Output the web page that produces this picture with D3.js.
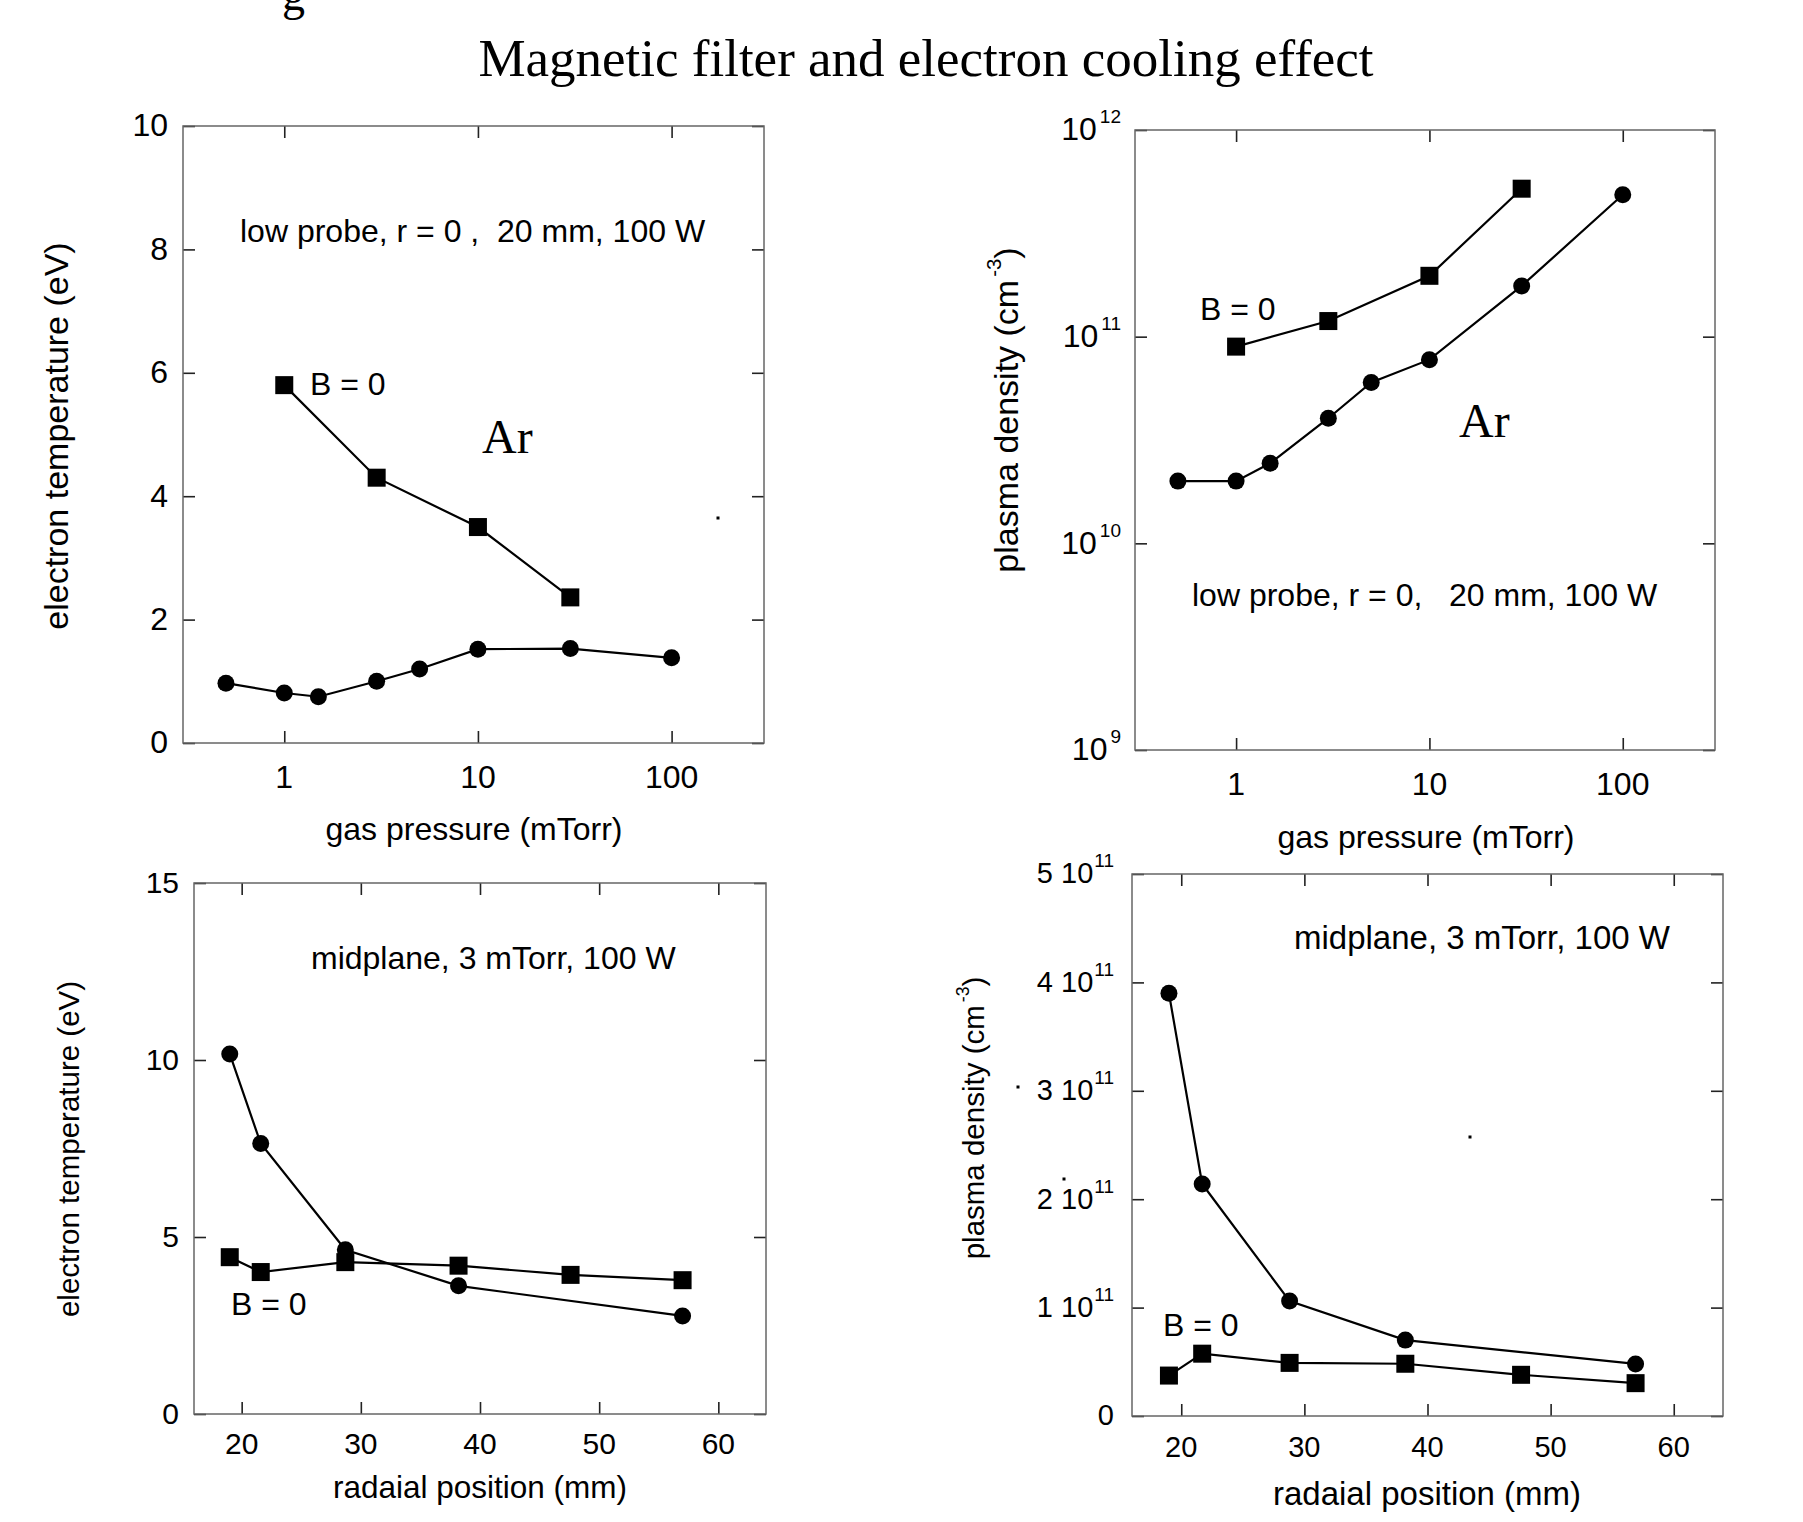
<!DOCTYPE html>
<html>
<head>
<meta charset="utf-8">
<script src="https://cdn.jsdelivr.net/npm/d3@7"></script>
<style>
body { margin: 0; background: #fff; }
svg text { font-family: "Liberation Sans", Arial, sans-serif; fill: #000; }
svg text.serif { font-family: "Liberation Serif", "Times New Roman", serif; }
</style>
</head>
<body>
<svg id="chart" width="1803" height="1522"></svg>
<script>
// ---- data ----
var pressure   = [0.5, 1, 1.5, 3, 5, 10, 30, 100];   // mTorr, with field
var pressureB0 = [1, 3, 10, 30];                      // mTorr, B = 0
var tePress    = [0.97, 0.81, 0.75, 1.0, 1.2, 1.52, 1.53, 1.38];
var tePressB0  = [5.8, 4.3, 3.5, 2.36];
var nPress     = [2.0e10, 2.0e10, 2.44e10, 4.03e10, 6.0e10, 7.74e10, 1.76e11, 4.86e11];
var nPressB0   = [8.95e10, 1.19e11, 1.97e11, 5.2e11];

var radius     = [19, 21.6, 28.7, 38.2, 57];          // mm, with field
var radiusB0   = [19, 21.6, 28.7, 38.2, 47.6, 57];    // mm, B = 0
var teRad      = [10.17, 7.64, 4.64, 3.62, 2.77];
var teRadB0    = [4.43, 4.01, 4.29, 4.19, 3.93, 3.78];
var nRad       = [3.9e11, 2.14e11, 1.06e11, 0.70e11, 0.48e11];
var nRadB0     = [0.373e11, 0.575e11, 0.49e11, 0.482e11, 0.38e11, 0.303e11];

// tick values
var pressTicks   = [1, 10, 100];
var tePressTicks = [0, 2, 4, 6, 8, 10];
var nPressTicks  = [1e9, 1e10, 1e11, 1e12];
var radTicks     = [20, 30, 40, 50, 60];
var teRadTicks   = [0, 5, 10, 15];
var nRadTicks    = [0, 1e11, 2e11, 3e11, 4e11, 5e11];

var svg = d3.select("#chart");

function zip(xs, ys) { return xs.map(function(v, i) { return [v, ys[i]]; }); }

function plain(d) { return [String(d)]; }
function pow10(d) { return ["10", String(Math.round(Math.log10(d)))]; }
function mant11(d) { return d === 0 ? ["0"] : [Math.round(d / 1e11) + " 10", "11"]; }

// title + clipped letter from the page above
svg.append("text").attr("class", "serif").attr("x", 282).attr("y", 10)
    .attr("font-size", 46).text("g");
svg.append("text").attr("class", "serif").attr("x", 926).attr("y", 76)
    .attr("font-size", 53).attr("text-anchor", "middle")
    .text("Magnetic filter and electron cooling effect");

var panels = [
  { left: 183, right: 764, top: 126, bottom: 743,
    xlog: true, xdom: [0.3, 300], ylog: false, ydom: [0, 10],
    xticks: pressTicks, yticks: tePressTicks, xfmt: plain, yfmt: plain,
    tickFont: 32, xLabY: 788, yGap: 15,
    series: [{ d: zip(pressure, tePress), m: "c" }, { d: zip(pressureB0, tePressB0), m: "s" }],
    xTitle: "gas pressure (mTorr)", xTitleFont: 32, xTitleX: 474, xTitleY: 840,
    yTitle: ["electron temperature (eV)"], yTitleFont: 34, yTitleX: 68, yTitleY: 436,
    notes: [
      { t: "low probe, r = 0 ,  20 mm, 100 W", x: 240, y: 242, fs: 32 },
      { t: "B = 0", x: 310, y: 395, fs: 32 },
      { t: "Ar", x: 482, y: 453, fs: 48, serif: true }
    ],
    dots: [[718, 518]] },
  { left: 1135, right: 1715, top: 130, bottom: 750,
    xlog: true, xdom: [0.3, 300], ylog: true, ydom: [1e9, 1e12],
    xticks: pressTicks, yticks: nPressTicks, xfmt: plain, yfmt: pow10,
    tickFont: 32, xLabY: 795, yGap: 14, supFont: 19, supDy: -17, supDx: 3,
    series: [{ d: zip(pressure, nPress), m: "c" }, { d: zip(pressureB0, nPressB0), m: "s" }],
    xTitle: "gas pressure (mTorr)", xTitleFont: 32, xTitleX: 1426, xTitleY: 848,
    yTitle: ["plasma density (cm", "-3", ")"], yTitleFont: 34, yTitleX: 1018, yTitleY: 410,
    notes: [
      { t: "B = 0", x: 1200, y: 320, fs: 32 },
      { t: "Ar", x: 1459, y: 437, fs: 48, serif: true },
      { t: "low probe, r = 0,   20 mm, 100 W", x: 1192, y: 606, fs: 32 }
    ],
    dots: [] },
  { left: 194, right: 766, top: 883, bottom: 1414,
    xlog: false, xdom: [16, 64], ylog: false, ydom: [0, 15],
    xticks: radTicks, yticks: teRadTicks, xfmt: plain, yfmt: plain,
    tickFont: 30, xLabY: 1454, yGap: 15,
    series: [{ d: zip(radius, teRad), m: "c" }, { d: zip(radiusB0, teRadB0), m: "s" }],
    xTitle: "radaial position (mm)", xTitleFont: 31.5, xTitleX: 480, xTitleY: 1498,
    yTitle: ["electron temperature (eV)"], yTitleFont: 29.5, yTitleX: 79, yTitleY: 1149,
    notes: [
      { t: "midplane, 3 mTorr, 100 W", x: 311, y: 969, fs: 32 },
      { t: "B = 0", x: 231, y: 1315, fs: 32 }
    ],
    dots: [] },
  { left: 1132, right: 1723, top: 874, bottom: 1416,
    xlog: false, xdom: [16, 64], ylog: false, ydom: [0, 5e11],
    xticks: radTicks, yticks: nRadTicks, xfmt: plain, yfmt: mant11,
    tickFont: 29, xLabY: 1457, yGap: 18, supFont: 19, supDy: -16, supDx: 1,
    series: [{ d: zip(radius.slice(0, 1).concat([21.7, 28.8, 38.2, 56.9]), nRad), m: "c" },
             { d: zip([19, 21.7, 28.8, 38.2, 47.6, 56.9], nRadB0), m: "s" }],
    xTitle: "radaial position (mm)", xTitleFont: 33, xTitleX: 1427, xTitleY: 1505,
    yTitle: ["plasma density (cm", "-3", ")"], yTitleFont: 29.5, yTitleX: 984, yTitleY: 1118,
    notes: [
      { t: "midplane, 3 mTorr, 100 W", x: 1294, y: 949, fs: 33 },
      { t: "B = 0", x: 1163, y: 1336, fs: 32 }
    ],
    dots: [[1018, 1087], [1064, 1179], [1470, 1137]] }
];

panels.forEach(drawPanel);

function drawPanel(o) {
  var x = (o.xlog ? d3.scaleLog() : d3.scaleLinear()).domain(o.xdom).range([o.left, o.right]);
  var y = (o.ylog ? d3.scaleLog() : d3.scaleLinear()).domain(o.ydom).range([o.bottom, o.top]);
  var g = svg.append("g");

  // inward ticks on all four sides
  var sides = [
    [d3.axisBottom(x).tickValues(o.xticks), "translate(0," + o.bottom + ")"],
    [d3.axisTop(x).tickValues(o.xticks), "translate(0," + o.top + ")"],
    [d3.axisLeft(y).tickValues(o.yticks), "translate(" + o.left + ",0)"],
    [d3.axisRight(y).tickValues(o.yticks), "translate(" + o.right + ",0)"]
  ];
  sides.forEach(function(s) {
    var a = g.append("g").attr("transform", s[1])
      .call(s[0].tickSizeInner(-12).tickSizeOuter(0).tickFormat(""));
    a.select(".domain").remove();
    a.selectAll("line").attr("stroke", "#222").attr("stroke-width", 1.6);
  });

  g.append("rect")
    .attr("x", o.left).attr("y", o.top)
    .attr("width", o.right - o.left).attr("height", o.bottom - o.top)
    .attr("fill", "none").attr("stroke", "#666").attr("stroke-width", 1.5);

  // tick labels
  g.selectAll(".xl").data(o.xticks).enter().append("text")
    .attr("x", function(d) { return x(d); }).attr("y", o.xLabY)
    .attr("font-size", o.tickFont).attr("text-anchor", "middle")
    .text(function(d) { return o.xfmt(d)[0]; });

  g.selectAll(".yl").data(o.yticks).enter().append("text")
    .attr("x", o.left - o.yGap)
    .attr("y", function(d) { return y(d) - 1 + 0.358 * o.tickFont; })
    .attr("font-size", o.tickFont).attr("text-anchor", "end")
    .each(function(d) {
      var p = o.yfmt(d), t = d3.select(this);
      t.append("tspan").text(p[0]);
      if (p[1]) t.append("tspan").attr("font-size", o.supFont)
        .attr("dx", o.supDx).attr("dy", o.supDy).text(p[1]);
    });

  // series
  var line = d3.line().x(function(d) { return x(d[0]); }).y(function(d) { return y(d[1]); });
  o.series.forEach(function(s) {
    g.append("path").datum(s.d).attr("d", line)
      .attr("fill", "none").attr("stroke", "#000").attr("stroke-width", 2.2);
    if (s.m === "c") {
      g.selectAll(null).data(s.d).enter().append("circle")
        .attr("cx", function(d) { return x(d[0]); })
        .attr("cy", function(d) { return y(d[1]); })
        .attr("r", 8.5).attr("fill", "#000");
    } else {
      g.selectAll(null).data(s.d).enter().append("rect")
        .attr("x", function(d) { return x(d[0]) - 9; })
        .attr("y", function(d) { return y(d[1]) - 9; })
        .attr("width", 18).attr("height", 18).attr("fill", "#000");
    }
  });

  // axis titles
  g.append("text").attr("x", o.xTitleX).attr("y", o.xTitleY)
    .attr("font-size", o.xTitleFont).attr("text-anchor", "middle").text(o.xTitle);

  var yt = g.append("text")
    .attr("transform", "translate(" + o.yTitleX + "," + o.yTitleY + ") rotate(-90)")
    .attr("font-size", o.yTitleFont).attr("text-anchor", "middle");
  yt.append("tspan").text(o.yTitle[0]);
  if (o.yTitle.length > 1) {
    yt.append("tspan").attr("font-size", o.yTitleFont * 0.6).attr("dy", -o.yTitleFont * 0.5).attr("dx", 3).text(o.yTitle[1]);
    yt.append("tspan").attr("dy", o.yTitleFont * 0.5).text(o.yTitle[2]);
  }

  // annotations
  o.notes.forEach(function(n) {
    g.append("text").attr("class", n.serif ? "serif" : null)
      .attr("x", n.x).attr("y", n.y).attr("font-size", n.fs)
      .style("white-space", "pre").text(n.t);
  });

  o.dots.forEach(function(p) {
    g.append("rect").attr("x", p[0] - 1.5).attr("y", p[1] - 1.5)
      .attr("width", 3).attr("height", 3).attr("fill", "#000");
  });
}
</script>
</body>
</html>
